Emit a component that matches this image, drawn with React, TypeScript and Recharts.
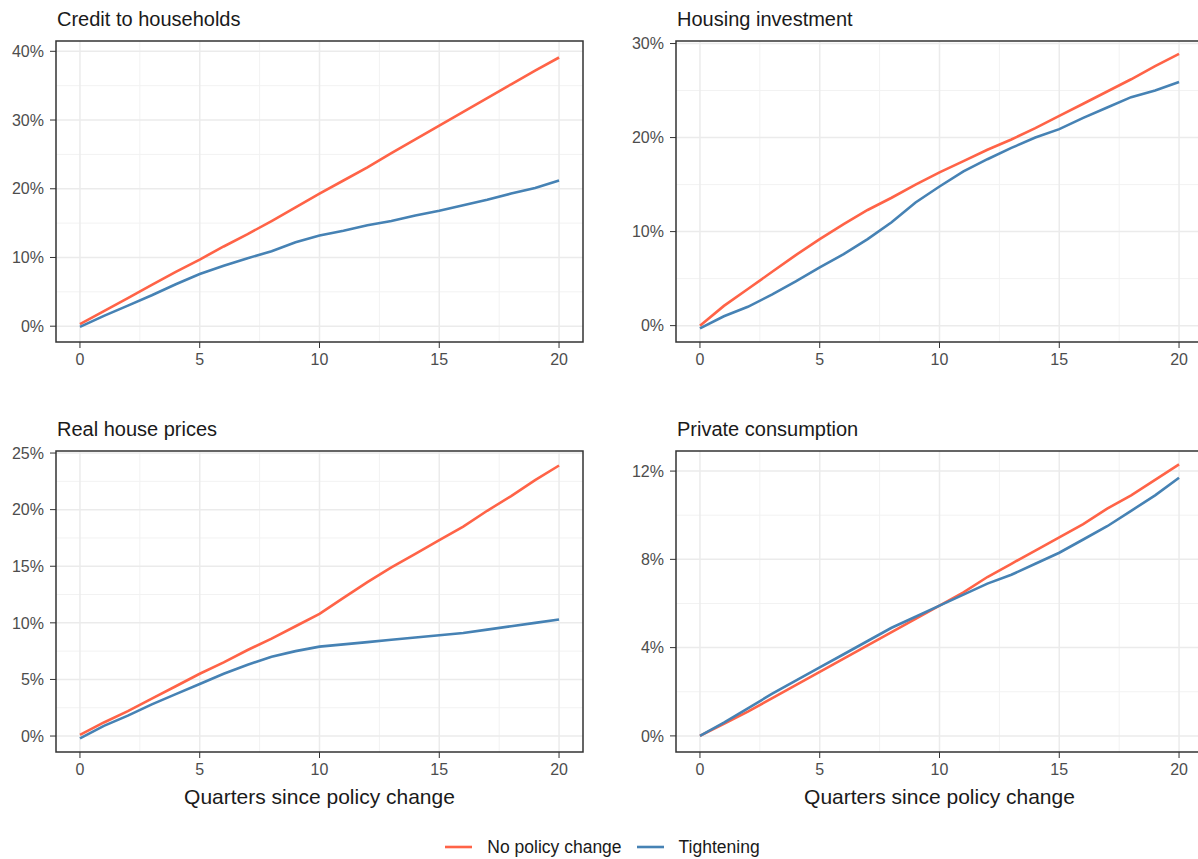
import { LineChart, Line, XAxis, YAxis, CartesianGrid, ReferenceArea } from 'recharts';

const FONT = '"Liberation Sans", Arial, Helvetica, sans-serif';

const quarters = [0, 1, 2, 3, 4, 5, 6, 7, 8, 9, 10, 11, 12, 13, 14, 15, 16, 17, 18, 19, 20];
const xTicks = [0, 5, 10, 15, 20];
const xMinor = [2.5, 7.5, 12.5, 17.5];

const seriesNames = ['No policy change', 'Tightening'];
const seriesColors = ['#FF6347', '#4682B4'];

// Credit to households (%)
const creditNoPolicy = [0.3, 2.2, 4.1, 6.0, 7.9, 9.7, 11.6, 13.4, 15.3, 17.3, 19.3, 21.2, 23.1, 25.2, 27.2, 29.2, 31.2, 33.2, 35.2, 37.2, 39.1];
const creditTightening = [-0.1, 1.5, 3.0, 4.5, 6.1, 7.6, 8.8, 9.9, 10.9, 12.2, 13.2, 13.9, 14.7, 15.3, 16.1, 16.8, 17.6, 18.4, 19.3, 20.1, 21.2];

// Housing investment (%)
const housingNoPolicy = [0, 2.1, 3.9, 5.7, 7.5, 9.2, 10.8, 12.3, 13.6, 15.0, 16.3, 17.5, 18.7, 19.8, 21.0, 22.3, 23.6, 24.9, 26.2, 27.6, 28.9];
const housingTightening = [-0.3, 1.0, 2.0, 3.3, 4.7, 6.2, 7.6, 9.2, 11.0, 13.1, 14.8, 16.4, 17.7, 18.9, 20.0, 20.9, 22.1, 23.2, 24.3, 25.0, 25.9];

// Real house prices (%)
const pricesNoPolicy = [0.1, 1.2, 2.2, 3.3, 4.4, 5.5, 6.5, 7.6, 8.6, 9.7, 10.8, 12.2, 13.6, 14.9, 16.1, 17.3, 18.5, 19.9, 21.2, 22.6, 23.9];
const pricesTightening = [-0.2, 0.9, 1.8, 2.8, 3.7, 4.6, 5.5, 6.3, 7.0, 7.5, 7.9, 8.1, 8.3, 8.5, 8.7, 8.9, 9.1, 9.4, 9.7, 10.0, 10.3];

// Private consumption (%)
const consumptionNoPolicy = [0, 0.55, 1.1, 1.7, 2.3, 2.9, 3.5, 4.1, 4.7, 5.3, 5.9, 6.5, 7.2, 7.8, 8.4, 9.0, 9.6, 10.3, 10.9, 11.6, 12.3];
const consumptionTightening = [0, 0.6, 1.25, 1.9, 2.5, 3.1, 3.7, 4.3, 4.9, 5.4, 5.9, 6.4, 6.9, 7.3, 7.8, 8.3, 8.9, 9.5, 10.2, 10.9, 11.7];

const toRows = (a: number[], b: number[]) =>
  quarters.map((q, i) => ({ q, noPolicy: a[i], tightening: b[i] }));

type PanelProps = {
  title: string;
  rows: { q: number; noPolicy: number; tightening: number }[];
  yDomain: [number, number];
  yTicks: number[];
  yMinor: number[];
  left: number;
  top: number;
  xTitle?: string;
};

function Panel({ title, rows, yDomain, yTicks, yMinor, left, top, xTitle }: PanelProps) {
  const xHeight = xTitle ? 60 : 30;
  const height = 41 + 301 + xHeight;
  return (
    <div style={{ position: 'absolute', left, top, width: 600, height }}>
      <div
        style={{
          position: 'absolute',
          left: 57,
          top: 9,
          fontSize: 20,
          lineHeight: '20px',
          color: '#1a1a1a',
          whiteSpace: 'nowrap',
        }}
      >
        {title}
      </div>
      <LineChart width={600} height={height} data={rows} margin={{ top: 41, right: 17, left: 0, bottom: 0 }}>
        <CartesianGrid verticalValues={xMinor} horizontalValues={yMinor} stroke="#F2F2F2" strokeWidth={1} />
        <CartesianGrid verticalValues={xTicks} horizontalValues={yTicks} stroke="#EBEBEB" strokeWidth={1.5} />
        <XAxis
          dataKey="q"
          type="number"
          domain={[-1, 21]}
          ticks={xTicks}
          allowDataOverflow
          axisLine={false}
          tickSize={6}
          tickMargin={6}
          tickLine={{ stroke: '#333333' }}
          tick={{ fill: '#4D4D4D', fontSize: 16, fontFamily: FONT }}
          height={xHeight}
          label={
            xTitle
              ? { value: xTitle, position: 'insideBottom', offset: 8, fill: '#1a1a1a', fontSize: 21, fontFamily: FONT }
              : undefined
          }
        />
        <YAxis
          type="number"
          domain={yDomain}
          ticks={yTicks}
          allowDataOverflow
          width={56}
          axisLine={false}
          tickSize={6}
          tickMargin={6}
          tickLine={{ stroke: '#333333' }}
          tick={{ fill: '#4D4D4D', fontSize: 16, fontFamily: FONT }}
          tickFormatter={(v: number) => `${v}%`}
        />
        <Line dataKey="noPolicy" name={seriesNames[0]} stroke={seriesColors[0]} strokeWidth={2.6} dot={false} type="linear" isAnimationActive={false} />
        <Line dataKey="tightening" name={seriesNames[1]} stroke={seriesColors[1]} strokeWidth={2.6} dot={false} type="linear" isAnimationActive={false} />
        <ReferenceArea
          x1={-1}
          x2={21}
          y1={yDomain[0]}
          y2={yDomain[1]}
          fill="none"
          stroke="#333333"
          strokeWidth={1.5}
          ifOverflow="visible"
        />
      </LineChart>
    </div>
  );
}

export default function App() {
  return (
    <div
      style={{
        position: 'absolute',
        left: 0,
        top: 0,
        width: 1198,
        height: 859,
        overflow: 'hidden',
        background: '#ffffff',
        fontFamily: FONT,
      }}
    >
      <Panel
        title="Credit to households"
        rows={toRows(creditNoPolicy, creditTightening)}
        yDomain={[-2.3, 41.5]}
        yTicks={[0, 10, 20, 30, 40]}
        yMinor={[5, 15, 25, 35]}
        left={0}
        top={0}
      />
      <Panel
        title="Housing investment"
        rows={toRows(housingNoPolicy, housingTightening)}
        yDomain={[-1.74, 30.27]}
        yTicks={[0, 10, 20, 30]}
        yMinor={[5, 15, 25]}
        left={620}
        top={0}
      />
      <Panel
        title="Real house prices"
        rows={toRows(pricesNoPolicy, pricesTightening)}
        yDomain={[-1.41, 25.18]}
        yTicks={[0, 5, 10, 15, 20, 25]}
        yMinor={[2.5, 7.5, 12.5, 17.5, 22.5]}
        left={0}
        top={410}
        xTitle="Quarters since policy change"
      />
      <Panel
        title="Private consumption"
        rows={toRows(consumptionNoPolicy, consumptionTightening)}
        yDomain={[-0.73, 12.91]}
        yTicks={[0, 4, 8, 12]}
        yMinor={[2, 6, 10]}
        left={620}
        top={410}
        xTitle="Quarters since policy change"
      />
      <div
        style={{
          position: 'absolute',
          left: 0,
          top: 837,
          width: 1198,
          height: 20,
          paddingLeft: 7,
          boxSizing: 'border-box',
          display: 'flex',
          justifyContent: 'center',
          alignItems: 'center',
          fontSize: 17.5,
          color: '#1a1a1a',
        }}
      >
        {seriesNames.map((name, i) => (
          <div key={name} style={{ display: 'flex', alignItems: 'center', marginLeft: i === 0 ? 0 : 15 }}>
            <svg width={27} height={4} style={{ marginRight: 15 }}>
              <line x1={0} y1={2} x2={27} y2={2} stroke={seriesColors[i]} strokeWidth={2.6} />
            </svg>
            <span>{name}</span>
          </div>
        ))}
      </div>
    </div>
  );
}
